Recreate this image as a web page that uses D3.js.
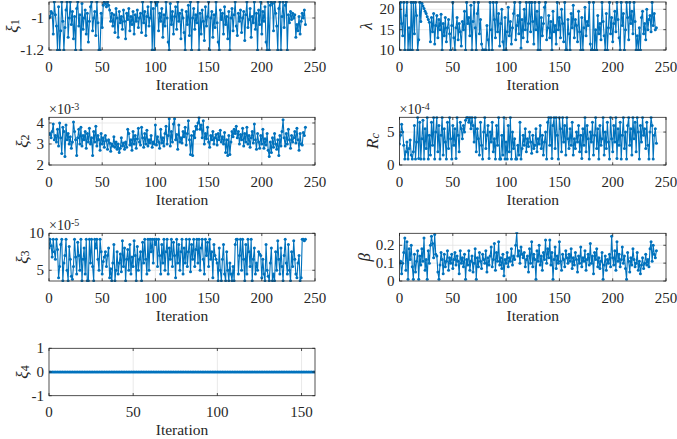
<!DOCTYPE html>
<html><head><meta charset="utf-8">
<script src="https://cdn.jsdelivr.net/npm/d3@7"></script>
<style>
html,body{margin:0;padding:0;background:#fff;}
svg{display:block;}
</style></head>
<body><svg id="c" width="677" height="439"></svg>
<script>
// ---- data (iteration index = array position) ----
const xi1 = [
-1.00,-0.99,-0.96,-0.97,-1.10,-0.90,-0.98,-1.05,-1.20,-0.93,-1.20,-1.08,-0.90,-1.02,-1.20,-1.06,-0.95,-0.90,-1.12,-1.00,
-0.90,-1.04,-0.96,-1.13,-0.99,-1.20,-0.94,-0.90,-1.05,-0.98,-1.20,-0.91,-1.07,-1.00,-0.95,-1.10,-0.97,-1.15,-1.02,-0.93,
-0.90,-1.08,-1.00,-0.96,-1.11,-0.90,-1.03,-1.20,-1.20,-0.97,-1.06,-0.92,-0.90,-0.91,-0.93,-0.90,-0.92,-0.95,-1.02,-0.97,
-1.05,-0.98,-1.09,-0.94,-1.00,-1.12,-0.96,-1.03,-0.99,-1.07,-0.95,-1.02,-1.13,-0.97,-1.01,-0.94,-1.08,-0.99,-1.04,-0.96,
-1.10,-0.98,-1.02,-0.95,-1.06,-1.00,-0.97,-1.09,-0.90,-1.03,-0.96,-1.11,-0.99,-0.93,-1.05,-1.00,-0.90,-1.20,-0.94,-1.20,
-0.90,-0.92,-0.90,-1.08,-0.97,-1.02,-0.94,-1.12,-0.98,-1.05,-0.90,-1.00,-1.15,-1.20,-0.91,-1.04,-0.96,-1.10,-0.99,-0.93,
-1.07,-0.90,-1.02,-0.97,-1.13,-0.95,-1.00,-1.09,-1.20,-0.96,-1.04,-0.92,-1.11,-0.90,-1.20,-1.00,-0.94,-1.07,-0.98,-1.03,
-0.90,-1.20,-0.97,-1.10,-0.95,-1.02,-1.14,-0.93,-1.05,-0.99,-0.90,-1.20,-1.00,-0.96,-1.12,-0.98,-1.06,-0.90,-1.03,-1.15,
-1.20,-0.95,-1.01,-0.97,-1.10,-0.93,-1.04,-0.99,-1.13,-0.96,-1.20,-1.00,-0.94,-1.08,-0.98,-0.90,-1.05,-1.11,-0.97,-1.02,
-0.95,-1.09,-1.00,-0.96,-1.14,-0.98,-0.90,-1.06,-1.01,-0.94,-1.12,-0.99,-1.03,-0.90,-1.07,-0.97,-1.20,-0.95,-1.04,-0.90,
-1.10,-0.96,-1.02,-0.93,-1.15,-1.20,-0.90,-1.20,-0.92,-0.90,-0.91,-1.08,-0.90,-0.97,-1.05,-1.20,-0.94,-0.90,-1.20,-0.99,
-0.90,-1.06,-0.92,-0.90,-1.20,-0.98,-1.03,-0.96,-1.01,-0.97,-1.00,-0.98,-1.12,-1.04,-1.08,-0.99,-1.10,-1.02,-0.97,-1.00,-0.95,-1.04];

const lambda = [
10.0,21.7,16.5,13.5,21.7,10.0,18.5,21.7,10.0,15.5,10.0,21.7,10.0,21.7,14.0,21.7,18.5,10.0,12.5,21.7,
17.0,21.5,20.8,20.2,19.5,19.0,18.2,17.5,16.8,12.0,18.0,14.5,19.0,11.5,16.0,18.5,13.0,17.5,15.0,18.8,
10.0,16.5,13.5,18.0,12.0,15.5,17.5,14.0,10.0,16.0,21.7,13.0,10.0,15.5,18.0,12.5,16.5,14.5,11.0,17.0,
15.0,19.5,10.0,21.7,16.5,18.0,13.5,21.0,10.0,17.0,21.7,15.5,10.0,19.0,21.7,14.0,17.5,11.5,10.0,10.0,
10.0,10.0,16.0,12.5,10.0,21.7,15.0,10.0,21.7,17.5,13.0,21.7,14.5,19.0,11.0,16.5,20.0,12.0,10.0,18.0,
10.0,14.5,20.5,13.5,17.0,11.5,15.5,19.0,21.7,12.5,16.0,18.5,14.0,21.7,10.5,17.5,13.0,20.0,15.0,21.7,
12.0,16.5,21.7,14.5,21.7,17.0,11.5,21.7,15.0,19.5,10.0,21.7,10.0,18.0,13.5,16.5,20.5,21.7,12.5,15.5,
18.5,13.0,17.0,10.0,19.5,14.5,16.0,11.5,21.7,15.0,18.0,13.0,20.0,16.5,12.0,21.7,10.0,10.0,17.5,14.0,
10.0,19.0,15.5,21.0,13.0,17.5,16.0,12.0,19.5,14.5,10.0,18.0,10.0,15.5,20.5,13.5,17.0,16.0,21.7,11.5,
10.0,10.0,21.7,10.0,15.0,10.0,18.5,14.0,16.5,12.5,21.7,17.0,13.5,10.0,19.0,10.0,15.5,21.7,14.0,18.0,
12.0,16.5,19.5,14.5,21.7,17.5,13.0,10.0,21.7,16.0,19.0,10.0,15.0,21.7,18.0,12.5,21.7,16.5,19.5,14.0,
21.7,17.0,10.0,13.5,10.0,15.5,10.0,18.0,19.5,14.0,16.5,12.5,20.0,15.0,17.5,18.5,14.5,21.7,16.0,19.0,15.0,15.5];

// xi2 in units of 1e-3
const xi2 = [
3.45,3.50,3.30,3.60,3.95,3.20,3.40,3.10,3.70,2.90,4.00,3.30,2.55,3.80,3.60,2.40,3.90,3.20,3.50,3.00,
3.35,2.80,3.10,4.05,3.60,3.20,2.45,3.30,3.70,3.00,3.80,2.90,3.40,3.20,3.60,2.80,3.50,3.10,3.75,3.00,
3.30,2.45,3.60,3.10,3.85,2.90,3.40,3.20,2.70,3.50,3.00,3.30,2.85,3.40,3.15,2.75,3.20,3.05,2.65,3.00,
2.90,3.35,2.85,3.10,2.75,3.00,2.60,2.80,3.30,2.90,3.05,2.75,3.10,2.85,3.70,3.50,2.95,3.20,2.70,3.60,
3.00,3.40,2.80,3.25,3.75,3.10,2.95,3.80,3.30,2.85,3.50,3.00,3.65,2.90,3.20,3.05,3.40,2.85,3.10,3.00,
3.90,2.95,3.35,3.10,2.80,3.70,3.05,3.30,2.90,3.50,3.85,3.00,3.40,4.20,2.90,3.60,3.10,3.95,4.20,3.20,
3.45,2.75,3.90,3.10,3.30,3.05,3.60,3.35,3.80,2.95,3.50,4.10,3.20,2.50,3.40,2.45,3.60,3.30,3.85,3.70,
4.00,4.25,3.70,3.90,3.30,4.10,3.00,3.50,3.25,3.80,3.10,2.85,3.40,3.20,3.60,3.00,3.30,3.45,2.95,3.50,
3.20,3.65,3.10,3.35,3.00,3.55,2.60,3.20,2.45,3.40,2.50,3.10,3.60,3.35,3.70,3.50,3.85,3.30,3.60,3.00,
3.45,3.20,3.75,2.90,3.50,3.10,3.80,3.00,3.40,2.85,3.30,3.60,3.05,3.95,3.20,2.75,3.50,3.10,2.80,3.40,
3.00,3.70,2.80,3.25,2.95,3.50,2.70,2.40,3.10,2.60,3.30,2.85,3.50,3.00,2.75,3.20,2.45,3.40,2.90,3.60,
4.15,3.30,2.90,3.50,3.00,3.70,3.20,2.80,3.40,3.10,3.30,3.60,3.05,3.75,3.20,2.70,3.50,3.00,2.95,3.55,3.40,3.80];

// Rc in units of 1e-4
const rc = [
3.2,4.5,6.2,5.0,3.0,0.9,2.0,3.5,0.9,2.5,3.8,1.5,0.9,2.0,6.0,0.9,3.5,7.2,1.0,6.5,
0.9,4.0,6.8,0.9,5.5,2.5,7.2,0.9,4.5,1.5,6.5,3.0,7.2,0.9,5.0,7.2,2.0,6.0,0.9,4.5,
7.2,1.5,5.5,3.5,0.9,6.5,2.5,7.2,4.0,0.9,6.0,3.0,5.5,1.0,7.2,4.5,2.0,6.5,5.5,4.0,
6.0,5.0,6.8,7.2,7.2,6.5,7.2,5.5,7.2,6.0,3.5,7.2,2.0,5.5,4.0,1.5,6.5,3.0,0.9,5.0,
7.2,2.5,4.5,6.0,1.0,5.0,3.5,6.5,2.0,4.0,0.9,6.0,3.0,7.2,0.9,0.9,4.5,1.5,7.2,0.9,
3.5,0.9,6.0,2.0,7.2,0.9,5.0,2.5,4.0,0.9,0.9,3.0,1.5,6.5,0.9,2.5,4.5,3.0,5.5,2.0,
4.0,2.8,5.0,3.5,1.8,4.5,2.5,3.0,5.5,2.0,4.0,3.2,6.0,2.5,4.5,1.5,3.5,5.0,0.9,6.5,
7.2,3.0,7.2,1.0,6.0,7.2,2.5,7.2,4.5,0.9,7.2,5.5,2.0,7.2,3.5,6.0,1.5,7.2,4.0,2.5,
5.5,3.0,6.5,1.5,4.0,2.5,5.0,3.5,6.0,2.0,4.5,1.0,5.5,3.0,7.2,2.0,6.0,4.0,0.9,5.0,
3.5,6.5,1.5,4.5,7.2,2.5,5.5,0.9,6.0,3.0,4.0,7.2,1.5,5.0,2.5,6.5,3.5,0.9,7.2,4.0,
2.0,6.0,3.5,7.2,1.0,5.5,3.0,6.5,0.9,4.5,7.2,2.5,5.0,0.9,6.0,7.2,3.0,5.5,1.5,7.2,
4.0,6.5,2.0,7.2,5.0,0.9,6.0,3.5,7.2,4.5,5.5,2.5,6.5,3.0,0.9,5.0,7.2,6.0,0.9,4.5,5.5,3.3];

// xi3 in units of 1e-5
const xi3 = [
8.0,9.2,8.3,6.8,9.2,7.5,6.5,9.2,7.8,4.0,5.5,8.5,9.2,3.6,6.0,7.0,9.2,5.0,3.6,8.2,
6.5,4.2,3.8,5.5,9.2,6.8,4.5,8.8,7.0,5.0,9.2,3.6,6.5,8.0,4.5,9.2,3.6,3.6,9.2,6.0,
9.2,5.5,3.6,9.2,8.0,9.2,6.5,5.0,9.2,7.5,4.5,6.2,6.8,7.5,5.5,7.0,8.0,4.0,5.2,3.6,
6.0,8.5,3.6,5.0,7.5,4.5,6.0,7.2,4.8,9.0,5.5,8.0,3.6,6.5,7.8,5.0,8.5,4.5,6.8,5.5,
9.0,7.0,3.6,8.2,5.0,6.5,7.5,3.6,8.8,6.0,9.2,6.5,4.5,9.2,5.0,9.2,7.5,9.2,6.0,9.2,
8.5,9.2,5.5,9.2,7.0,4.5,8.5,6.0,9.2,5.0,7.5,9.2,4.5,8.0,6.5,9.2,5.5,8.8,7.0,4.0,
9.2,6.0,8.5,5.0,7.5,9.2,4.5,8.0,6.0,9.2,5.5,7.5,9.2,4.8,8.5,6.5,9.2,5.5,7.8,9.2,
6.0,9.2,5.0,8.0,9.2,6.5,4.5,9.2,7.0,8.8,5.5,9.2,6.5,7.5,4.0,8.5,7.0,6.5,6.0,3.6,
8.0,5.0,3.6,6.5,8.5,4.5,3.6,7.5,5.0,3.6,6.0,4.5,3.6,5.5,3.6,8.5,9.2,9.2,4.5,7.0,
9.2,5.0,9.2,6.5,3.6,8.5,4.5,9.2,7.5,5.5,9.2,3.6,6.5,8.0,4.5,6.0,5.0,7.5,7.2,7.0,
4.0,6.5,4.5,3.6,8.5,5.0,4.2,3.6,6.0,8.0,3.6,4.5,3.6,7.5,5.0,9.0,6.5,4.5,8.0,5.5,
3.6,7.0,9.2,6.0,4.5,8.5,5.0,3.6,7.5,5.5,9.0,6.5,4.5,4.0,6.0,7.0,3.6,4.0,9.2,9.2,9.0,9.2];

const beta = [
0.10,0.11,0.04,0.10,0.16,0.24,0.06,0.22,0.01,0.18,0.12,0.20,0.08,0.01,0.15,0.05,0.11,0.17,0.01,0.14,
0.09,0.18,0.11,0.24,0.06,0.12,0.01,0.17,0.10,0.20,0.25,0.21,0.13,0.26,0.15,0.14,0.05,0.01,0.09,0.16,
0.12,0.04,0.15,0.08,0.11,0.17,0.06,0.13,0.10,0.15,0.07,0.12,0.16,0.09,0.14,0.11,0.04,0.17,0.10,0.13,
0.08,0.15,0.01,0.12,0.09,0.17,0.06,0.11,0.14,0.05,0.10,0.18,0.01,0.13,0.08,0.16,0.11,0.07,0.15,0.12,
0.10,0.17,0.05,0.13,0.09,0.14,0.19,0.08,0.12,0.21,0.06,0.16,0.11,0.22,0.09,0.13,0.07,0.15,0.03,0.12,
0.10,0.16,0.08,0.13,0.11,0.18,0.09,0.14,0.12,0.20,0.27,0.14,0.17,0.10,0.19,0.15,0.13,0.16,0.08,0.12,
0.14,0.05,0.18,0.10,0.22,0.08,0.15,0.12,0.01,0.17,0.11,0.20,0.09,0.14,0.06,0.16,0.12,0.23,0.10,0.18,
0.13,0.23,0.09,0.16,0.01,0.12,0.19,0.07,0.14,0.10,0.22,0.11,0.06,0.15,0.12,0.08,0.17,0.13,0.10,0.15,
0.11,0.18,0.07,0.13,0.09,0.16,0.12,0.05,0.14,0.10,0.19,0.08,0.13,0.11,0.17,0.06,0.12,0.15,0.09,0.21,
0.10,0.14,0.04,0.16,0.12,0.18,0.08,0.13,0.07,0.11,0.16,0.01,0.09,0.14,0.06,0.12,0.10,0.15,0.08,0.25,
0.13,0.09,0.17,0.06,0.22,0.11,0.15,0.08,0.12,0.19,0.10,0.14,0.07,0.01,0.16,0.11,0.05,0.13,0.09,0.18,
0.12,0.08,0.10,0.16,0.06,0.11,0.04,0.09,0.13,0.07,0.10,0.15,0.09,0.12,0.08,0.18,0.22,0.11,0.20,0.15,0.13,0.17];

const xi4 = [
0,0,0,0,0,0,0,0,0,0,0,0,0,0,0,0,0,0,0,0,
0,0,0,0,0,0,0,0,0,0,0,0,0,0,0,0,0,0,0,0,
0,0,0,0,0,0,0,0,0,0,0,0,0,0,0,0,0,0,0,0,
0,0,0,0,0,0,0,0,0,0,0,0,0,0,0,0,0,0,0,0,
0,0,0,0,0,0,0,0,0,0,0,0,0,0,0,0,0,0,0,0,
0,0,0,0,0,0,0,0,0,0,0,0,0,0,0,0,0,0,0,0,
0,0,0,0,0,0,0,0,0,0,0,0,0,0,0,0,0,0,0,0,
0,0,0,0,0,0,0,0,0,0,0,0,0,0,0,0,0,0,0];

const xTicks250 = [0,50,100,150,200,250];
const xTicks150 = [0,50,100,150];
const xi1Ticks = [-1.2,-1];
const lambdaTicks = [10,15,20];
const xi2Ticks = [2,3,4];
const rcTicks = [0,5];
const xi3Ticks = [5,10];
const betaTicks = [0,0.1,0.2];
const xi4Ticks = [-1,0,1];
const xLabel = "Iteration";

// ---- drawing ----
const FONT = "Liberation Serif";
const svg = d3.select("#c");
const BLUE = "#0072BD", AX = "#262626", GRID = "#e3e3e3";
const L = [49, 315], R = [399.5, 666];
const rows = [[2,50],[117.3,165],[233.3,281],[348.3,395.7]];

const panels = [
 {d:xi1, xr:L, yr:rows[0], xd:[0,250], yd:[-1.2,-0.9], xt:xTicks250, yt:xi1Ticks, lab:[["ξ","i"],["1","sub"]], lx:12},
 {d:lambda, xr:R, yr:rows[0], xd:[0,250], yd:[10,21.8], xt:xTicks250, yt:lambdaTicks, lab:[["λ","i"]], lx:366},
 {d:xi2, xr:L, yr:rows[1], xd:[0,250], yd:[2,4.27], xt:xTicks250, yt:xi2Ticks, lab:[["ξ","i"],["2","sub"]], lx:22, exp:"-3"},
 {d:rc, xr:R, yr:rows[1], xd:[0,250], yd:[0,7.24], xt:xTicks250, yt:rcTicks, lab:[["R","i"],["c","subi"]], lx:372, exp:"-4"},
 {d:xi3, xr:L, yr:rows[2], xd:[0,250], yd:[3.55,10], xt:xTicks250, yt:xi3Ticks, lab:[["ξ","i"],["3","sub"]], lx:22, exp:"-5"},
 {d:beta, xr:R, yr:rows[2], xd:[0,250], yd:[0,0.267], xt:xTicks250, yt:betaTicks, lab:[["β","i"]], lx:364},
 {d:xi4, xr:L, yr:rows[3], xd:[0,158], yd:[-1,1], xt:xTicks150, yt:xi4Ticks, lab:[["ξ","i"],["4","sub"]], lx:22}
];

panels.forEach((p,k) => {
  const x = d3.scaleLinear().domain(p.xd).range(p.xr);
  const y = d3.scaleLinear().domain(p.yd).range([p.yr[1], p.yr[0]]);
  const g = svg.append("g").attr("font-family", FONT);
  const clipId = "clip"+k;
  g.append("clipPath").attr("id",clipId).append("rect")
    .attr("x",p.xr[0]).attr("y",p.yr[0]-1).attr("width",p.xr[1]-p.xr[0]).attr("height",p.yr[1]-p.yr[0]+2);
  // grid
  g.append("g").selectAll("line").data(p.xt.filter(t=>t>p.xd[0]&&t<p.xd[1])).join("line")
    .attr("x1",d=>x(d)).attr("x2",d=>x(d)).attr("y1",p.yr[0]).attr("y2",p.yr[1])
    .attr("stroke",GRID).attr("stroke-width",0.8);
  g.append("g").selectAll("line").data(p.yt.filter(t=>t>p.yd[0]&&t<p.yd[1])).join("line")
    .attr("y1",d=>y(d)).attr("y2",d=>y(d)).attr("x1",p.xr[0]).attr("x2",p.xr[1])
    .attr("stroke",GRID).attr("stroke-width",0.8);
  // data
  const pts = p.d.map((v,i)=>[i,v]);
  const dg = g.append("g").attr("clip-path",`url(#${clipId})`);
  dg.append("path").datum(pts)
    .attr("d", d3.line().x(d=>x(d[0])).y(d=>y(d[1])))
    .attr("fill","none").attr("stroke",BLUE).attr("stroke-width",1.1);
  dg.selectAll("circle").data(pts).join("circle")
    .attr("cx",d=>x(d[0])).attr("cy",d=>y(d[1])).attr("r",1.5).attr("fill",BLUE);
  // box
  g.append("rect").attr("x",p.xr[0]).attr("y",p.yr[0]).attr("width",p.xr[1]-p.xr[0]).attr("height",p.yr[1]-p.yr[0])
    .attr("fill","none").attr("stroke",AX).attr("stroke-width",0.8);
  // ticks inside
  const tl = 2.7;
  const tk = g.append("g").attr("stroke",AX).attr("stroke-width",0.8);
  p.xt.forEach(t=>{
    tk.append("line").attr("x1",x(t)).attr("x2",x(t)).attr("y1",p.yr[1]).attr("y2",p.yr[1]-tl);
    tk.append("line").attr("x1",x(t)).attr("x2",x(t)).attr("y1",p.yr[0]).attr("y2",p.yr[0]+tl);
  });
  p.yt.forEach(t=>{
    tk.append("line").attr("y1",y(t)).attr("y2",y(t)).attr("x1",p.xr[0]).attr("x2",p.xr[0]+tl);
    tk.append("line").attr("y1",y(t)).attr("y2",y(t)).attr("x1",p.xr[1]).attr("x2",p.xr[1]-tl);
  });
  // tick labels
  g.append("g").selectAll("text").data(p.xt).join("text")
    .attr("font-family", FONT)
    .attr("x",d=>x(d)).attr("y",p.yr[1]+16.5).attr("text-anchor","middle").attr("dominant-baseline","central")
    .attr("font-size",15).attr("fill",AX).text(d=>String(d));
  g.append("g").selectAll("text").data(p.yt).join("text")
    .attr("font-family", FONT)
    .attr("x",p.xr[0]-5).attr("y",d=>y(d)).attr("text-anchor","end").attr("dominant-baseline","central")
    .attr("font-size",15).attr("fill",AX).text(d=>String(d));
  // x label
  g.append("text").attr("font-family", FONT).attr("x",(p.xr[0]+p.xr[1])/2).attr("y",p.yr[1]+34)
    .attr("text-anchor","middle").attr("dominant-baseline","central")
    .attr("font-size",15.5).attr("fill",AX).text(xLabel);
  // y label
  const cy = (p.yr[0]+p.yr[1])/2;
  const yl = g.append("text").attr("font-family", FONT).attr("transform",`translate(${p.lx},${cy}) rotate(-90)`)
    .attr("text-anchor","middle").attr("dominant-baseline","central")
    .attr("font-size",17).attr("fill",AX);
  p.lab.forEach(([s,st])=>{
    const ts = yl.append("tspan").text(s);
    if (st==="i") ts.attr("font-style","italic");
    if (st==="sub"||st==="subi") { ts.attr("font-size",12).attr("baseline-shift","-25%"); if(st==="subi") ts.attr("font-style","italic"); }
  });
  // exponent
  if (p.exp) {
    const et = g.append("text").attr("font-family", FONT).attr("x",p.xr[0]).attr("y",p.yr[0]-3)
      .attr("font-size",14).attr("fill",AX);
    et.append("tspan").text("×10");
    et.append("tspan").attr("font-size",10).attr("baseline-shift","45%").text(p.exp);
  }
});
</script>
</body></html>
